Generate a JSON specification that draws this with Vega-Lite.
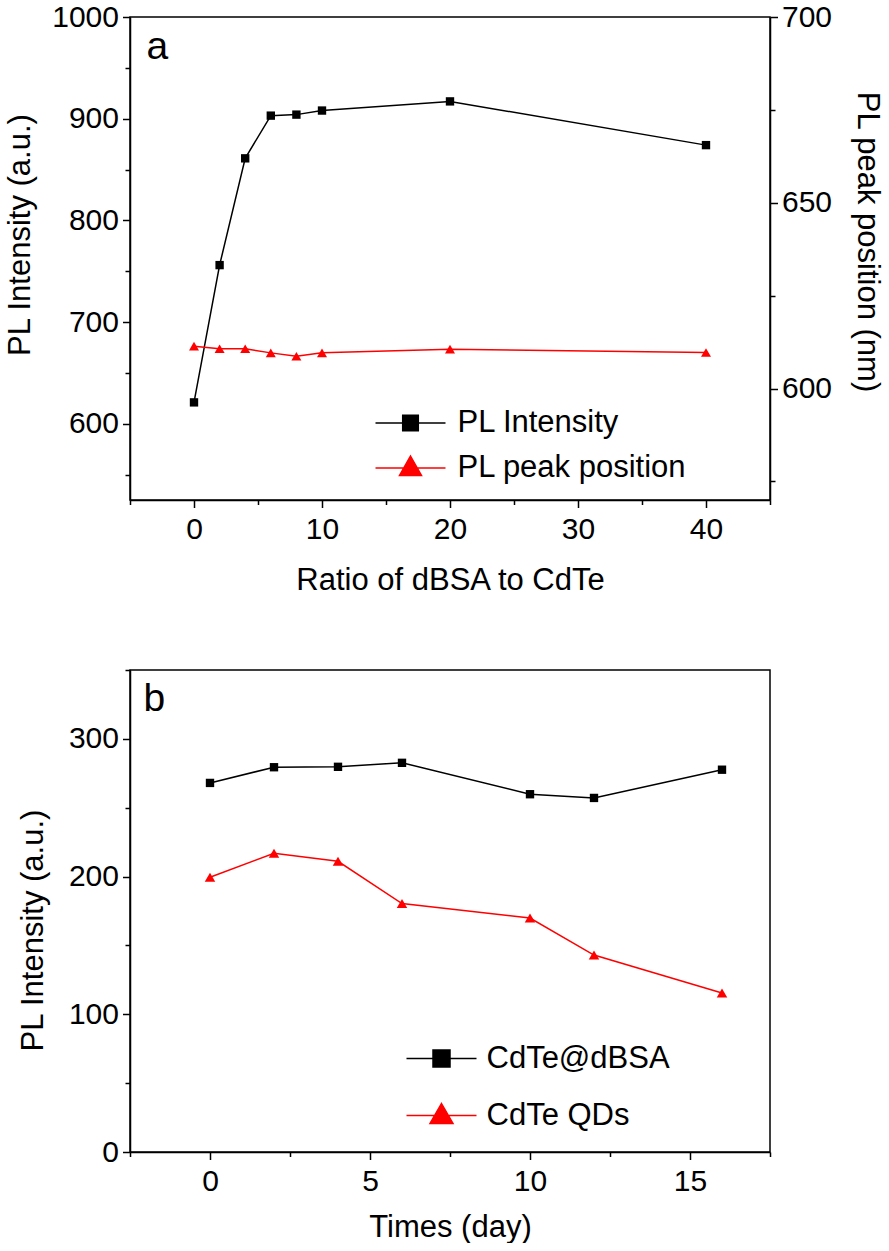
{
  "$schema": "https://vega.github.io/schema/vega-lite/v6.json",
  "background": "white",
  "padding": {"left": 3, "top": 1, "right": 0, "bottom": 0},
  "bounds": "flush",
  "spacing": 170,
  "datasets": {
    "pa": [
      {"ratio": 0, "series": "PL Intensity", "value": 621},
      {"ratio": 2, "series": "PL Intensity", "value": 756},
      {"ratio": 4, "series": "PL Intensity", "value": 861},
      {"ratio": 6, "series": "PL Intensity", "value": 903},
      {"ratio": 8, "series": "PL Intensity", "value": 904},
      {"ratio": 10, "series": "PL Intensity", "value": 908},
      {"ratio": 20, "series": "PL Intensity", "value": 917},
      {"ratio": 40, "series": "PL Intensity", "value": 874},
      {"ratio": 0, "series": "PL peak position", "value": 611.4},
      {"ratio": 2, "series": "PL peak position", "value": 610.7},
      {"ratio": 4, "series": "PL peak position", "value": 610.7},
      {"ratio": 6, "series": "PL peak position", "value": 609.6},
      {"ratio": 8, "series": "PL peak position", "value": 608.7},
      {"ratio": 10, "series": "PL peak position", "value": 609.6},
      {"ratio": 20, "series": "PL peak position", "value": 610.6},
      {"ratio": 40, "series": "PL peak position", "value": 609.7}
    ],
    "pb": [
      {"day": 0, "series": "CdTe@dBSA", "value": 268},
      {"day": 2, "series": "CdTe@dBSA", "value": 279.4},
      {"day": 4, "series": "CdTe@dBSA", "value": 279.7},
      {"day": 6, "series": "CdTe@dBSA", "value": 282.6},
      {"day": 10, "series": "CdTe@dBSA", "value": 259.8},
      {"day": 12, "series": "CdTe@dBSA", "value": 257.1},
      {"day": 16, "series": "CdTe@dBSA", "value": 277.6},
      {"day": 0, "series": "CdTe QDs", "value": 199.5},
      {"day": 2, "series": "CdTe QDs", "value": 216.9},
      {"day": 4, "series": "CdTe QDs", "value": 211.1},
      {"day": 6, "series": "CdTe QDs", "value": 180.4},
      {"day": 10, "series": "CdTe QDs", "value": 169.9},
      {"day": 12, "series": "CdTe QDs", "value": 143},
      {"day": 16, "series": "CdTe QDs", "value": 115.4}
    ]
  },
  "vconcat": [
    {
      "width": 640,
      "height": 483,
      "data": {"name": "pa"},
      "encoding": {
        "x": {
          "field": "ratio", "type": "quantitative",
          "scale": {"domain": [-5, 45], "nice": false, "zero": false},
          "axis": {
            "orient": "bottom",
            "title": "Ratio of dBSA to CdTe",
            "values": [-5, 0, 5, 10, 15, 20, 25, 30, 35, 40, 45],
            "labelExpr": "datum.value % 10 === 0 ? datum.label : ''",
            "tickSize": {"condition": {"test": "datum.value % 10 === 0", "value": 7.5}, "value": 4.5},
            "titleY": 80, "titleBaseline": "middle"
          }
        }
      },
      "layer": [
        {
          "encoding": {
            "y": {
              "field": "value", "type": "quantitative",
              "scale": {"domain": [525, 1000], "nice": false, "zero": false},
              "axis": {
                "orient": "left",
                "title": "PL Intensity (a.u.)",
                "format": "d",
                "values": [550, 600, 650, 700, 750, 800, 850, 900, 950, 1000],
                "labelExpr": "datum.value % 100 === 0 ? datum.label : ''",
                "tickSize": {"condition": {"test": "datum.value % 100 === 0", "value": 7.5}, "value": 5},
                "titleAngle": -90, "titleX": -110, "titleY": 217.5, "titleBaseline": "middle", "titleAlign": "center"
              }
            }
          },
          "layer": [
            {
              "transform": [{"filter": "datum.series === 'PL Intensity'"}],
              "mark": {"type": "line", "color": "black", "strokeWidth": 1.5},
              "encoding": {}
            },
            {
              "transform": [{"filter": "datum.series === 'PL Intensity'"}],
              "mark": {"type": "point", "shape": "square", "filled": true, "color": "black", "size": 70, "opacity": 1},
              "encoding": {}
            },
            {
              "mark": {"type": "point", "opacity": 0, "size": 400, "strokeWidth": 1.5},
              "encoding": {
                "shape": {"field": "series", "type": "nominal",
                  "scale": {"domain": ["PL Intensity", "PL peak position"], "range": ["M-3.5,0H3.5M-0.78,-0.78H0.78V0.78H-0.78Z", "M-3.5,0H3.5M0,-1.2L1.1,0.75H-1.1Z"]},
                  "legend": {"title": null, "orient": "none", "legendX": 265, "legendY": 390.5, "padding": 0, "symbolOpacity": 1, "symbolStrokeWidth": 1.5, "symbolSize": 400, "labelOffset": 31.5, "rowPadding": 13, "labelFontSize": 31, "labelFont": "Liberation Sans", "labelColor": "black", "labelLimit": 0}},
                "fill": {"field": "series", "type": "nominal",
                  "scale": {"domain": ["PL Intensity", "PL peak position"], "range": ["#000000", "#ff0000"]},
                  "legend": {"title": null, "orient": "none", "legendX": 265, "legendY": 390.5, "padding": 0, "symbolOpacity": 1, "symbolStrokeWidth": 1.5, "symbolSize": 400, "labelOffset": 31.5, "rowPadding": 13, "labelFontSize": 31, "labelFont": "Liberation Sans", "labelColor": "black", "labelLimit": 0}},
                "stroke": {"field": "series", "type": "nominal",
                  "scale": {"domain": ["PL Intensity", "PL peak position"], "range": ["#000000", "#ff0000"]},
                  "legend": {"title": null, "orient": "none", "legendX": 265, "legendY": 390.5, "padding": 0, "symbolOpacity": 1, "symbolStrokeWidth": 1.5, "symbolSize": 400, "labelOffset": 31.5, "rowPadding": 13, "labelFontSize": 31, "labelFont": "Liberation Sans", "labelColor": "black", "labelLimit": 0}}
              }
            }
          ]
        },
        {
          "transform": [{"filter": "datum.series === 'PL peak position'"}],
          "encoding": {
            "x": {
              "field": "ratio", "type": "quantitative",
              "scale": {"domain": [-5, 45], "nice": false, "zero": false},
              "axis": {
                "orient": "top", "title": "a", "domain": false, "ticks": false, "labels": false,
                "titleX": 16, "titleY": 41.5, "titleAlign": "left", "titleBaseline": "alphabetic", "titleAnchor": "start",
                "titleFontSize": 39
              }
            },
            "y": {
              "field": "value", "type": "quantitative",
              "scale": {"domain": [570, 700], "nice": false, "zero": false},
              "axis": {
                "orient": "right",
                "title": "PL peak position (nm)",
                "values": [575, 600, 625, 650, 675, 700],
                "labelExpr": "datum.value % 50 === 0 ? datum.label : ''",
                "tickSize": {"condition": {"test": "datum.value % 50 === 0", "value": 7.5}, "value": 5},
                "titleAngle": 90, "titleX": 96, "titleY": 224.5, "titleBaseline": "middle", "titleAlign": "center"
              }
            }
          },
          "layer": [
            {"mark": {"type": "line", "color": "#ff0000", "strokeWidth": 1.5}, "encoding": {}},
            {"mark": {"type": "point", "shape": "triangle-up", "filled": true, "color": "#ff0000", "size": 100, "opacity": 1}, "encoding": {}}
          ]
        }
      ],
      "resolve": {"scale": {"y": "independent", "shape": "independent", "fill": "independent", "stroke": "independent"}, "axis": {"x": "independent", "y": "independent"}}
    },
    {
      "width": 640,
      "height": 482,
      "data": {"name": "pb"},
      "encoding": {
        "y": {
          "field": "value", "type": "quantitative",
          "scale": {"domain": [0, 350], "nice": false},
          "axis": {
            "orient": "left",
            "title": "PL Intensity (a.u.)",
            "values": [0, 50, 100, 150, 200, 250, 300, 350],
            "labelExpr": "datum.value % 100 === 0 ? datum.label : ''",
            "tickSize": {"condition": {"test": "datum.value % 100 === 0", "value": 7.5}, "value": 5},
            "titleAngle": -90, "titleX": -96.4, "titleY": 260, "titleBaseline": "middle", "titleAlign": "center"
          }
        }
      },
      "layer": [
        {
          "encoding": {
            "x": {
              "field": "day", "type": "quantitative",
              "scale": {"domain": [-2.5, 17.5], "nice": false, "zero": false},
              "axis": {
                "orient": "bottom",
                "title": "Times (day)",
                "values": [-2.5, 0, 2.5, 5, 7.5, 10, 12.5, 15, 17.5],
                "labelExpr": "datum.value % 5 === 0 ? datum.label : ''",
                "tickSize": {"condition": {"test": "datum.value % 5 === 0", "value": 7.5}, "value": 4.5},
                "titleY": 75, "titleBaseline": "middle"
              }
            }
          },
          "layer": [
            {
              "transform": [{"filter": "datum.series === 'CdTe@dBSA'"}],
              "mark": {"type": "line", "color": "black", "strokeWidth": 1.5},
              "encoding": {}
            },
            {
              "transform": [{"filter": "datum.series === 'CdTe@dBSA'"}],
              "mark": {"type": "point", "shape": "square", "filled": true, "color": "black", "size": 70, "opacity": 1},
              "encoding": {}
            },
            {
              "transform": [{"filter": "datum.series === 'CdTe QDs'"}],
              "mark": {"type": "line", "color": "#ff0000", "strokeWidth": 1.5},
              "encoding": {}
            },
            {
              "transform": [{"filter": "datum.series === 'CdTe QDs'"}],
              "mark": {"type": "point", "shape": "triangle-up", "filled": true, "color": "#ff0000", "size": 110, "opacity": 1},
              "encoding": {}
            }
          ]
        },
        {
          "mark": {"type": "point", "opacity": 0, "size": 400, "strokeWidth": 1.5},
          "encoding": {
            "x": {
              "field": "day", "type": "quantitative",
              "scale": {"domain": [-2.5, 17.5], "nice": false, "zero": false},
              "axis": {
                "orient": "top", "title": "b", "domain": false, "ticks": false, "labels": false,
                "titleX": 13, "titleY": 40, "titleAlign": "left", "titleBaseline": "alphabetic", "titleAnchor": "start",
                "titleFontSize": 39
              }
            },
            "shape": {"field": "series", "type": "nominal",
              "scale": {"domain": ["CdTe@dBSA", "CdTe QDs"], "range": ["M-3.5,0H3.5M-0.85,-0.85H0.85V0.85H-0.85Z", "M-3.5,0H3.5M0,-1.2L1.15,0.8H-1.15Z"]},
              "legend": {"title": null, "orient": "none", "legendX": 296, "legendY": 373, "padding": 0, "symbolOpacity": 1, "symbolStrokeWidth": 1.5, "symbolSize": 400, "labelOffset": 29.5, "rowPadding": 25, "labelFontSize": 31, "labelFont": "Liberation Sans", "labelColor": "black", "labelLimit": 0}},
            "fill": {"field": "series", "type": "nominal",
              "scale": {"domain": ["CdTe@dBSA", "CdTe QDs"], "range": ["#000000", "#ff0000"]},
              "legend": {"title": null, "orient": "none", "legendX": 296, "legendY": 373, "padding": 0, "symbolOpacity": 1, "symbolStrokeWidth": 1.5, "symbolSize": 400, "labelOffset": 29.5, "rowPadding": 25, "labelFontSize": 31, "labelFont": "Liberation Sans", "labelColor": "black", "labelLimit": 0}},
            "stroke": {"field": "series", "type": "nominal",
              "scale": {"domain": ["CdTe@dBSA", "CdTe QDs"], "range": ["#000000", "#ff0000"]},
              "legend": {"title": null, "orient": "none", "legendX": 296, "legendY": 373, "padding": 0, "symbolOpacity": 1, "symbolStrokeWidth": 1.5, "symbolSize": 400, "labelOffset": 29.5, "rowPadding": 25, "labelFontSize": 31, "labelFont": "Liberation Sans", "labelColor": "black", "labelLimit": 0}}
          }
        }
      ],
      "resolve": {"axis": {"x": "independent"}}
    }
  ],
  "resolve": {"scale": {"shape": "independent", "fill": "independent", "stroke": "independent"}, "legend": {"shape": "independent", "fill": "independent", "stroke": "independent"}},
  "config": {
    "view": {"stroke": "black", "strokeWidth": 1.5},
    "axis": {
      "grid": false, "domainColor": "black", "domainWidth": 1.5, "tickColor": "black", "tickWidth": 1.5,
      "labelFont": "Liberation Sans", "labelFontSize": 30, "labelColor": "black", "labelFlush": false, "labelOverlap": false, "labelBound": false,
      "titleFont": "Liberation Sans", "titleFontSize": 31, "titleFontWeight": "normal", "titleColor": "black"
    },
    "axisX": {"labelPadding": 7},
    "axisY": {"labelPadding": 4}
  }
}
